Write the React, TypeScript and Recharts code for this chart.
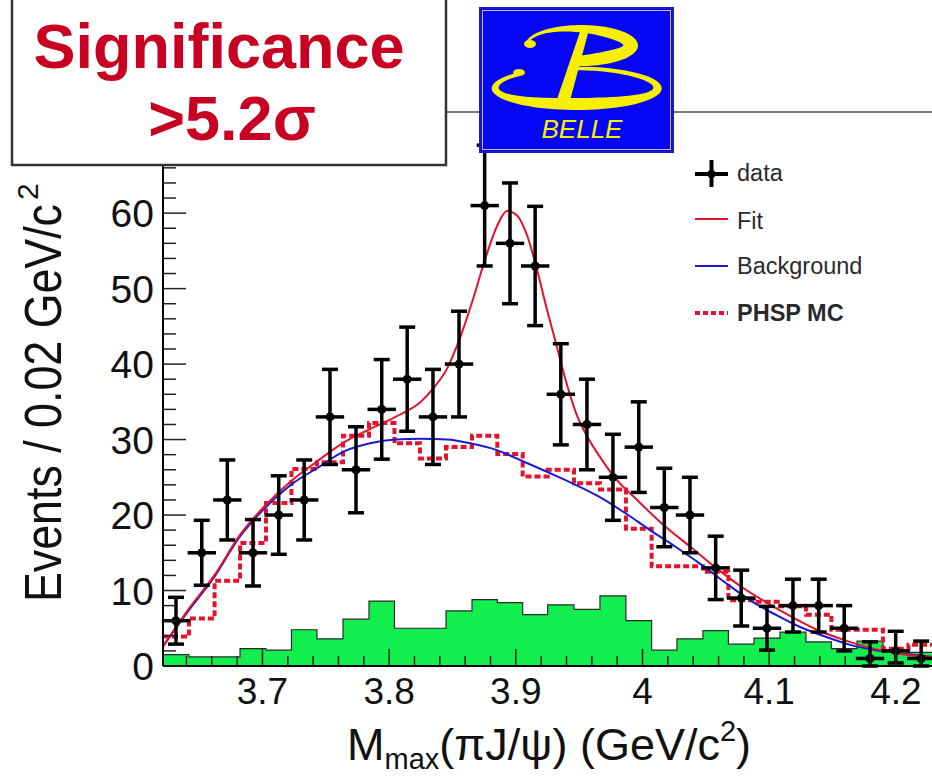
import React from 'react';
import { ComposedChart, XAxis, YAxis, Scatter, Line, Area, ErrorBar } from 'recharts';

const W = 932;
const H = 776;
const FONT = '"Liberation Sans", Arial, Helvetica, sans-serif';

// Plot frame in pixels
const PLOT_LEFT = 163;
const PLOT_TOP = 112;
const PLOT_BOTTOM = 666;

// Histogram bin edges in M_max(piJ/psi), GeV/c^2
const binEdges = [
  3.6215, 3.642, 3.6622, 3.6823, 3.7028, 3.7229, 3.743, 3.7636, 3.7841, 3.8042,
  3.8243, 3.8449, 3.8654, 3.8854, 3.9054, 3.9251, 3.9459, 3.9664, 3.9869, 4.0072,
  4.0272, 4.0477, 4.0678, 4.088, 4.1085, 4.129, 4.1491, 4.1693, 4.1898, 4.2099, 4.23,
];

// Observed events per bin
const dataEvents = [
  6, 15, 22, 15, 20, 22, 33, 26, 34, 38, 33, 40, 61, 56, 53,
  36, 32, 25, 29, 21, 20, 13, 9, 5, 8, 8, 5, 1, 2, 1,
];
const dataErrLow = [
  3.1, 4.3, 5.3, 4.4, 5.2, 5.3, 6.3, 5.7, 6.6, 6.9, 6.3, 7.0, 8.0, 8.0, 7.9,
  6.7, 6.0, 5.7, 6.0, 5.2, 5.0, 4.2, 3.7, 2.9, 3.5, 3.5, 3.0, 1.0, 1.6, 1.0,
];
const dataErrHigh = [
  3.1, 4.3, 5.3, 4.4, 5.2, 5.3, 6.3, 5.7, 6.6, 6.9, 6.3, 7.0, 8.0, 8.0, 7.9,
  6.7, 6.0, 5.7, 6.0, 5.2, 5.0, 4.2, 3.7, 2.9, 3.5, 3.5, 3.0, 2.2, 2.6, 2.3,
];
const MASS_ERR = 0.0112;

// Phase-space MC shape per bin
const phspEvents = [
  3.9, 6.3, 11.3, 16.3, 21.6, 26.1, 27.0, 30.5, 32.2, 29.5, 27.5, 29.0, 30.5, 28.1, 25.1,
  26.0, 24.2, 23.4, 18.2, 13.2, 13.2, 12.5, 8.7, 8.5, 7.9, 6.8, 4.8, 4.8, 2.3, 2.8,
];

// J/psi sideband events per bin (filled histogram)
const sidebandEvents = [
  1.5, 1.2, 1.2, 2.3, 2.1, 4.8, 3.6, 6.2, 8.6, 5.0, 5.0, 7.3, 8.8, 8.4, 6.8,
  8.1, 7.5, 9.3, 6.0, 2.1, 3.6, 4.7, 2.9, 3.7, 4.5, 3.2, 2.3, 3.3, 2.0, 1.8,
];

// Total fit curve
const fitMass = [
  3.6215, 3.642, 3.662, 3.682, 3.703, 3.724, 3.743, 3.764, 3.785, 3.805, 3.825, 3.835,
  3.846, 3.856, 3.866, 3.876, 3.886, 3.893, 3.901, 3.909, 3.916, 3.924, 3.931, 3.94,
  3.948, 3.956, 3.966, 3.977, 3.997, 4.017, 4.037, 4.058, 4.078, 4.098, 4.119, 4.139,
  4.16, 4.18, 4.2, 4.2285,
];
const fitEvents = [
  2.6, 7.6, 12.0, 17.3, 21.4, 24.7, 27.1, 29.6, 31.4, 33.0, 35.0, 36.8,
  39.5, 43.5, 48.5, 54.0, 58.6, 60.3, 59.7, 57.0, 53.0, 47.6, 43.2, 37.5,
  33.3, 30.5, 27.8, 25.2, 21.8, 18.6, 15.9, 13.0, 10.5, 8.4, 6.4, 4.7,
  3.4, 2.4, 1.7, 1.2,
];

// Background component of the fit
const bkgMass = [
  3.6215, 3.642, 3.662, 3.682, 3.703, 3.724, 3.743, 3.764, 3.785, 3.805, 3.825, 3.846,
  3.864, 3.885, 3.906, 3.925, 3.946, 3.966, 3.986, 4.006, 4.026, 4.045, 4.065, 4.085,
  4.105, 4.124, 4.144, 4.164, 4.184, 4.203, 4.2285,
];
const bkgEvents = [
  2.6, 7.4, 11.8, 17.1, 21.1, 24.2, 26.2, 28.4, 29.5, 30.0, 30.1, 30.0,
  29.5, 28.6, 27.1, 25.7, 24.1, 22.4, 20.3, 18.0, 15.8, 13.6, 11.1, 8.7,
  6.8, 5.2, 3.9, 2.8, 2.1, 1.7, 1.2,
];

// Axis ticks
const xTicks = [
  3.64, 3.66, 3.68, 3.7, 3.72, 3.74, 3.76, 3.78, 3.8, 3.82, 3.84, 3.86, 3.88, 3.9,
  3.92, 3.94, 3.96, 3.98, 4.0, 4.02, 4.04, 4.06, 4.08, 4.1, 4.12, 4.14, 4.16, 4.18,
  4.2, 4.22,
];
const xMajorTicks = [3.7, 3.8, 3.9, 4.0, 4.1, 4.2];
const xMajorLabels = ['3.7', '3.8', '3.9', '4', '4.1', '4.2'];
const yTicks = [
  0, 2, 4, 6, 8, 10, 12, 14, 16, 18, 20, 22, 24, 26, 28, 30, 32, 34, 36,
  38, 40, 42, 44, 46, 48, 50, 52, 54, 56, 58, 60, 62, 64, 66, 68,
];
const yMajorTicks = [0, 10, 20, 30, 40, 50, 60];

const X_DOMAIN: [number, number] = [3.6215, 4.2285];
const Y_DOMAIN: [number, number] = [0, 73.4];

const RED = '#e5122c';
const BLUE = '#1a1ad2';
const GREEN = '#12ee4e';

// Table rows built from the arrays above
const binCenters = dataEvents.map((_, i) => (binEdges[i] + binEdges[i + 1]) / 2);
const pointRows = dataEvents.map((n, i) => ({
  m: binCenters[i],
  n,
  err: [dataErrLow[i], dataErrHigh[i]],
  merr: MASS_ERR,
}));
const stepRows = (values: number[]) => [
  ...values.map((v, i) => ({ m: binEdges[i], n: v })),
  { m: binEdges[values.length], n: values[values.length - 1] },
];
const phspRows = stepRows(phspEvents);
const sidebandRows = stepRows(sidebandEvents);
const fitRows = fitMass.map((m, i) => ({ m, n: fitEvents[i] }));
const bkgRows = bkgMass.map((m, i) => ({ m, n: bkgEvents[i] }));

const XTick = (props: any) => {
  const { x, y, payload } = props;
  const v = payload.value as number;
  const idx = xMajorTicks.findIndex((t) => Math.abs(t - v) < 1e-6);
  const major = idx >= 0;
  return (
    <g>
      <line x1={x} y1={y} x2={x} y2={y - (major ? 17 : 10)} stroke="#222" strokeWidth={1.5} />
      {major && (
        <text x={x} y={y + 38} textAnchor="middle" fontFamily={FONT} fontSize={37} fill="#111">
          {xMajorLabels[idx]}
        </text>
      )}
    </g>
  );
};

const YTick = (props: any) => {
  const { x, y, payload } = props;
  const v = payload.value as number;
  const major = yMajorTicks.includes(v);
  return (
    <g>
      <line x1={x} y1={y} x2={x + (major ? 23 : 13)} y2={y} stroke="#222" strokeWidth={1.5} />
      {major && (
        <text x={x - 9} y={y} dy="0.36em" textAnchor="end" fontFamily={FONT} fontSize={39} fill="#111">
          {v}
        </text>
      )}
    </g>
  );
};

const DataDot = (props: any) => {
  const { cx, cy } = props;
  if (cx == null || cy == null) return null;
  return <circle cx={cx} cy={cy} r={4.5} fill="#000" />;
};

// Yellow band following part of an ellipse, with a thickness that swells around peakDeg
function bandPath(
  cx: number, cy: number, rx: number, ry: number,
  fromDeg: number, toDeg: number, wMin: number, wMax: number, peakDeg: number,
) {
  const outer: string[] = [];
  const inner: string[] = [];
  const steps = 80;
  const peak = (peakDeg * Math.PI) / 180;
  for (let k = 0; k <= steps; k++) {
    const t = ((fromDeg + ((toDeg - fromDeg) * k) / steps) * Math.PI) / 180;
    const w = wMin + ((wMax - wMin) * (1 + Math.cos(t - peak))) / 2;
    outer.push(`${(cx + rx * Math.cos(t)).toFixed(2)},${(cy + ry * Math.sin(t)).toFixed(2)}`);
    inner.push(`${(cx + (rx - w) * Math.cos(t)).toFixed(2)},${(cy + (ry - w) * Math.sin(t)).toFixed(2)}`);
  }
  return `M${outer.join('L')}L${inner.reverse().join('L')}Z`;
}

const BelleLogo = () => {
  const yellow = '#f6f000';
  return (
    <g>
      <rect x={480} y={8} width={193} height={144} fill="#0606f4" stroke="#1c1cb8" strokeWidth={2} />
      <rect x={482.5} y={10.5} width={188} height={139} fill="none" stroke="#b9b9ff" strokeWidth={1} />
      <path d={bandPath(581.5, 45.5, 56.5, 20.5, 180, 458, 3, 15, 15)} fill={yellow} />
      <path d={bandPath(576.7, 88.3, 85, 21.7, -95, 225, 3.5, 12, 80)} fill={yellow} />
      <ellipse cx={530} cy={44} rx={6} ry={4} fill={yellow} />
      <ellipse cx={519} cy={72.5} rx={6} ry={3.5} fill={yellow} />
      <polygon points="582,26 590,26 568,108 554,108" fill={yellow} />
      <text x={582} y={138} textAnchor="middle" fontFamily={FONT} fontStyle="italic" fontSize={26} fill={yellow}>
        BELLE
      </text>
    </g>
  );
};

const Overlay = () => (
  <svg
    width={W}
    height={H}
    style={{ position: 'absolute', left: 0, top: 0, pointerEvents: 'none' }}
  >
    {/* top edge of the frame */}
    <line x1={PLOT_LEFT} y1={PLOT_TOP} x2={W} y2={PLOT_TOP} stroke="#7a7a7a" strokeWidth={2} />

    {/* y axis title */}
    <text
      transform="translate(61,602) rotate(-90)"
      fontFamily={FONT}
      fontSize={52}
      textLength={398}
      lengthAdjust="spacingAndGlyphs"
      fill="#111"
    >
      Events / 0.02 GeV/c
    </text>
    <text transform="translate(38,200) rotate(-90)" fontFamily={FONT} fontSize={30} fill="#111">
      2
    </text>

    {/* x axis title */}
    <text x={347} y={760} fontFamily={FONT} fontSize={45} fill="#111">
      M
      <tspan fontSize={29} dy={9}>max</tspan>
      <tspan fontSize={45} dy={-9}>(πJ/ψ) (GeV/c</tspan>
      <tspan fontSize={29} dy={-19}>2</tspan>
      <tspan fontSize={45} dy={19}>)</tspan>
    </text>

    {/* significance box */}
    <rect x={12} y={-6} width={434} height={171} fill="#fff" stroke="#333" strokeWidth={2.5} />
    <text x={219} y={68} textAnchor="middle" fontFamily={FONT} fontWeight="bold" fontSize={63} fill="#c80022">
      Significance
    </text>
    <text x={232} y={140} textAnchor="middle" fontFamily={FONT} fontWeight="bold" fontSize={63} fill="#c80022">
      {'>5.2σ'}
    </text>

    <BelleLogo />

    {/* legend */}
    <g fontFamily={FONT} fontSize={23.5} fill="#2a2a2a">
      <line x1={695} y1={174} x2={728} y2={174} stroke="#000" strokeWidth={4} />
      <line x1={711.5} y1={160} x2={711.5} y2={187} stroke="#000" strokeWidth={4} />
      <circle cx={711.5} cy={174} r={4} fill="#000" />
      <text x={737} y={181}>data</text>

      <line x1={695} y1={219} x2={728} y2={219} stroke={RED} strokeWidth={2} />
      <text x={737} y={229}>Fit</text>

      <line x1={695} y1={266} x2={728} y2={266} stroke={BLUE} strokeWidth={2} />
      <text x={737} y={274}>Background</text>

      <line x1={695} y1={313} x2={728} y2={313} stroke={RED} strokeWidth={4} strokeDasharray="5 3" />
      <text x={737} y={321} fontWeight="bold">PHSP MC</text>
    </g>
  </svg>
);

export default function App() {
  return (
    <div style={{ position: 'absolute', left: 0, top: 0, width: W, height: H, background: '#fff' }}>
      <ComposedChart
        width={W}
        height={H}
        margin={{ top: PLOT_TOP, right: 0, left: 0, bottom: 0 }}
      >
        <Area
          data={sidebandRows}
          dataKey="n"
          type="stepAfter"
          fill={GREEN}
          fillOpacity={1}
          stroke="#2b2b2b"
          strokeWidth={1.2}
          isAnimationActive={false}
          dot={false}
          activeDot={false}
        />
        <Line
          data={phspRows}
          dataKey="n"
          type="stepAfter"
          stroke={RED}
          strokeWidth={4}
          strokeDasharray="6 3"
          dot={false}
          activeDot={false}
          isAnimationActive={false}
        />
        <Line
          data={bkgRows}
          dataKey="n"
          type="monotone"
          stroke={BLUE}
          strokeWidth={2}
          dot={false}
          activeDot={false}
          isAnimationActive={false}
        />
        <Line
          data={fitRows}
          dataKey="n"
          type="monotone"
          stroke={RED}
          strokeWidth={2}
          dot={false}
          activeDot={false}
          isAnimationActive={false}
        />
        <Scatter data={pointRows} dataKey="n" shape={<DataDot />} isAnimationActive={false}>
          <ErrorBar dataKey="err" direction="y" width={8} stroke="#000" strokeWidth={3.5} />
          <ErrorBar dataKey="merr" direction="x" width={0} stroke="#000" strokeWidth={3.5} />
        </Scatter>
        <XAxis
          dataKey="m"
          type="number"
          domain={X_DOMAIN}
          allowDataOverflow
          ticks={xTicks}
          interval={0}
          height={H - PLOT_BOTTOM}
          tickSize={0}
          tickMargin={0}
          tickLine={false}
          axisLine={{ stroke: '#000', strokeWidth: 2 }}
          tick={<XTick />}
        />
        <YAxis
          type="number"
          domain={Y_DOMAIN}
          allowDataOverflow
          ticks={yTicks}
          interval={0}
          width={PLOT_LEFT}
          tickSize={0}
          tickMargin={0}
          tickLine={false}
          axisLine={{ stroke: '#000', strokeWidth: 2 }}
          tick={<YTick />}
        />
      </ComposedChart>
      <Overlay />
    </div>
  );
}
